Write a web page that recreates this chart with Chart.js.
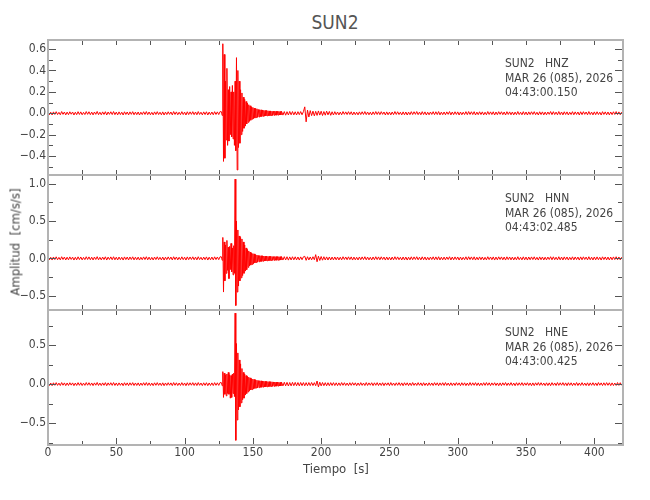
<!DOCTYPE html>
<html>
<head>
<meta charset="utf-8">
<script src="https://cdn.jsdelivr.net/npm/chart.js@4/dist/chart.umd.min.js"></script>
<style>
  body { margin: 0; background: #fff; }
  #wrap { position: relative; width: 650px; height: 500px; font-family: 'Liberation Sans Narrow', 'DejaVu Sans Condensed', sans-serif; color: #444; }
  canvas { position: absolute; left: 0; top: 0; }
  .info { position: absolute; left: 505px; white-space: pre; font-size: 12px; line-height: 14.5px; }
  .ttl { position: absolute; transform: translate(-50%, -50%); white-space: pre; }
</style>
</head>
<body>
<div id="wrap">
  <div class="ttl" style="left:335px;top:22px;font-size:19px;color:#555">SUN2</div>
  <canvas id="cZ" width="650" height="500"></canvas>
  <canvas id="cN" width="650" height="500"></canvas>
  <canvas id="cE" width="650" height="500"></canvas>
  <div class="info" style="top:56px">SUN2   HNZ
MAR 26 (085), 2026
04:43:00.150</div>
  <div class="info" style="top:191px">SUN2   HNN
MAR 26 (085), 2026
04:43:02.485</div>
  <div class="info" style="top:325px">SUN2   HNE
MAR 26 (085), 2026
04:43:00.425</div>
  <div class="ttl" style="left:15px;top:242px;font-size:13px;transform:translate(-50%,-50%) rotate(-90deg)">Amplitud  [cm/s/s]</div>
  <div class="ttl" style="left:336px;top:468px;font-size:13px">Tiempo  [s]</div>
</div>
<script>
/* three-component accelerogram, station SUN2 */

// sampling of the traces: [start, end, step] in seconds
const SEG_PRE = [0, 126, 1];
const SEG_BURST = [127, 170.5, 0.5];
const SEG_POST = [171, 420, 1];

const X_TICKS = [0, 50, 100, 150, 200, 250, 300, 350, 400];
const X_MINOR = [25, 50, 75, 100, 125, 150, 175, 200, 225, 250, 275, 300, 325, 350, 375, 400];

// HNZ
const hnzPre = [
  .012,-.014,.010,-.016,.013,-.011,.015,-.012,.009,-.014,.016,-.010,.012,-.015,.011,-.013,.014,-.009,.012,-.016,
  .010,-.013,.015,-.011,.013,-.014,.009,-.012,.016,-.010,.014,-.013,.011,-.015,.012,-.010,.017,-.013,.010,-.014,
  .013,-.011,.015,-.016,.012,-.010,.014,-.012,.016,-.013,.011,-.015,.013,-.012,.010,-.016,.014,-.011,.012,-.015,
  .013,-.010,.015,-.014,.011,-.013,.012,-.016,.010,-.012,.014,-.011,.016,-.013,.012,-.014,.009,-.015,.013,-.011,
  .015,-.012,.010,-.014,.013,-.016,.011,-.012,.014,-.010,.012,-.015,.016,-.011,.013,-.014,.010,-.013,.015,-.012,
  .011,-.016,.014,-.012,.013,-.010,.015,-.013,.012,-.014,.016,-.011,.010,-.015,.013,-.012,.014,-.016,.011,-.013,
  .012,-.014,.015,-.011,.013,-.012,.016];
const hnzBurst = [
  .014,-.02,.65,-.45,.55,-.42,.3,-.25,.42,-.3,
  .22,-.26,.25,-.2,.2,-.22,.26,-.24,.2,-.3,
  .3,-.35,.52,-.53,.4,-.32,.3,-.28,.22,-.2,
  .19,-.17,.15,-.14,.13,-.12,.11,-.1,.095,-.085,
  .08,-.075,.07,-.065,.06,-.055,.055,-.05,.048,-.045,
  .045,-.04,.042,-.038,.036,-.035,.034,-.032,.032,-.03,
  .03,-.028,.028,-.027,.026,-.025,.026,-.024,.024,-.023,
  .022,-.023,.022,-.021,.02,-.021,.02,-.019,.02,-.018,
  .019,-.018,.018,-.017,.018,-.016,.017,-.016];
const hnzPost = [
  .018,-.017,.016,-.018,.015,-.016,.017,-.014,.016,-.015,.014,-.016,.015,-.013,.016,-.014,.015,.06,-.08,.03,
  -.035,.025,-.022,.02,-.024,.018,-.02,.022,-.017,.019,-.021,.016,-.018,.02,-.015,.017,-.019,.014,-.016,.015,
  -.013,.012,-.015,.011,-.014,.016,-.010,.013,-.012,.015,-.011,.014,-.016,.012,-.013,.010,-.015,.013,-.012,.014,
  -.011,.016,-.013,.012,-.014,.010,-.015,.013,-.012,.016,-.011,.014,-.013,.015,-.010,.012,-.016,.013,-.014,.011,
  -.015,.012,-.013,.016,-.011,.014,-.012,.010,-.015,.013,-.014,.012,-.016,.011,-.013,.015,-.012,.014,-.010,.016,
  -.013,.011,-.014,.015,-.012,.013,-.016,.010,-.014,.012,-.011,.015,-.013,.014,-.012,.016,-.015,.011,-.013,.012,
  -.014,.013,-.010,.016,-.015,.012,-.013,.014,-.011,.013,-.016,.012,-.014,.010,-.012,.015,-.013,.016,-.011,.014,
  -.012,.015,-.016,.011,-.013,.014,-.012,.013,-.015,.010,-.014,.016,-.011,.013,-.012,.014,-.016,.012,-.013,.015,
  -.010,.014,-.013,.012,-.016,.015,-.011,.013,-.014,.012,-.015,.011,-.013,.016,-.012,.010,-.014,.015,-.013,.012,
  -.016,.013,-.012,.014,-.011,.015,-.013,.010,-.016,.014,-.012,.013,-.015,.011,-.014,.012,-.010,.016,-.013,.015,
  -.012,.011,-.014,.016,-.013,.012,-.015,.014,-.011,.013,-.016,.010,-.012,.015,-.014,.013,-.011,.012,-.016,.014,
  -.013,.015,-.010,.012,-.014,.016,-.012,.011,-.015,.013,-.013,.014,-.012,.010,-.016,.015,-.011,.013,-.014,.012,
  -.015,.012,-.013,.014,-.011,.016,-.012,.013,-.014,.011];

// HNN
const hnnPre = [
  .018,-.020,.015,-.022,.019,-.016,.021,-.018,.014,-.020,.022,-.015,.018,-.021,.016,-.019,.020,-.014,.017,-.022,
  .015,-.019,.021,-.016,.019,-.020,.014,-.017,.022,-.015,.020,-.018,.016,-.021,.018,-.015,.023,-.019,.015,-.020,
  .018,-.016,.021,-.022,.017,-.015,.020,-.018,.022,-.019,.016,-.021,.018,-.017,.015,-.022,.020,-.016,.018,-.021,
  .019,-.015,.021,-.020,.016,-.018,.017,-.022,.015,-.018,.020,-.016,.022,-.019,.017,-.020,.014,-.021,.018,-.016,
  .021,-.017,.015,-.020,.018,-.022,.016,-.017,.020,-.015,.018,-.021,.022,-.016,.019,-.020,.015,-.018,.021,-.017,
  .016,-.022,.020,-.017,.019,-.015,.021,-.018,.017,-.020,.022,-.016,.015,-.021,.018,-.017,.020,-.022,.016,-.019,
  .018,-.020,.021,-.016,.019,-.017,.022];
const hnnBurst = [
  .02,-.025,.28,-.45,.22,-.3,.18,-.2,.24,-.16,
  .15,-.27,.16,-.15,.2,-.18,.14,-.22,.17,-.2,
  1.06,-.63,.5,-.45,.38,-.37,.3,-.3,.28,-.26,
  .26,-.23,.22,-.2,.18,-.17,.14,-.15,.12,-.12,
  .1,-.1,.085,-.09,.07,-.08,.065,-.07,.06,-.06,
  .05,-.055,.045,-.05,.04,-.045,.038,-.042,.035,-.04,
  .035,-.038,.032,-.035,.03,-.034,.03,-.032,.028,-.03,
  .028,-.03,.027,-.028,.026,-.027,.025,-.026,.025,-.025,
  .024,-.025,.024,-.024,.023,-.024,.023,-.022];
const hnnPost = [
  .024,-.022,.023,-.021,.022,-.023,.020,-.021,.022,-.019,.021,-.020,.019,-.022,.020,-.018,.021,.028,-.026,.022,
  -.021,.019,-.020,.022,-.018,.050,-.045,.030,-.028,.025,-.024,.022,-.021,.020,-.022,.019,-.021,.018,-.020,.019,
  -.019,.018,-.021,.016,-.020,.022,-.015,.019,-.018,.021,-.016,.020,-.022,.018,-.019,.015,-.021,.019,-.018,.020,
  -.016,.022,-.019,.018,-.020,.015,-.021,.019,-.018,.022,-.016,.020,-.019,.021,-.015,.018,-.022,.019,-.020,.016,
  -.021,.018,-.019,.022,-.016,.020,-.018,.015,-.021,.019,-.020,.018,-.022,.016,-.019,.021,-.018,.020,-.015,.022,
  -.019,.016,-.020,.021,-.018,.019,-.022,.015,-.020,.018,-.016,.021,-.019,.020,-.018,.022,-.021,.016,-.019,.018,
  -.020,.019,-.015,.022,-.021,.018,-.019,.020,-.016,.019,-.022,.018,-.020,.015,-.018,.021,-.019,.022,-.016,.020,
  -.018,.021,-.022,.016,-.019,.020,-.018,.019,-.021,.015,-.020,.022,-.016,.019,-.018,.020,-.022,.018,-.019,.021,
  -.015,.020,-.019,.018,-.022,.021,-.016,.019,-.020,.018,-.021,.016,-.019,.022,-.018,.015,-.020,.021,-.019,.018,
  -.022,.019,-.018,.020,-.016,.021,-.019,.015,-.022,.020,-.018,.019,-.021,.016,-.020,.018,-.015,.022,-.019,.021,
  -.018,.016,-.020,.022,-.019,.018,-.021,.020,-.016,.019,-.022,.015,-.018,.021,-.020,.019,-.016,.018,-.022,.020,
  -.019,.021,-.015,.018,-.020,.022,-.018,.016,-.021,.019,-.019,.020,-.018,.015,-.022,.021,-.016,.019,-.020,.018,
  -.021,.018,-.019,.020,-.016,.022,-.018,.019,-.020,.016];

// HNE
const hnePre = [
  .016,-.018,.014,-.020,.017,-.015,.019,-.016,.013,-.018,.020,-.014,.016,-.019,.015,-.017,.018,-.013,.016,-.020,
  .014,-.017,.019,-.015,.017,-.018,.013,-.016,.020,-.014,.018,-.016,.015,-.019,.016,-.014,.021,-.017,.014,-.018,
  .016,-.015,.019,-.020,.016,-.014,.018,-.016,.020,-.017,.015,-.019,.016,-.015,.014,-.020,.018,-.015,.016,-.019,
  .017,-.014,.019,-.018,.015,-.017,.016,-.020,.014,-.016,.018,-.015,.020,-.017,.016,-.018,.013,-.019,.017,-.015,
  .019,-.016,.014,-.018,.017,-.020,.015,-.016,.018,-.014,.016,-.019,.020,-.015,.017,-.018,.014,-.017,.019,-.016,
  .015,-.020,.018,-.016,.017,-.014,.019,-.017,.016,-.018,.020,-.015,.014,-.019,.017,-.016,.018,-.020,.015,-.017,
  .016,-.018,.019,-.015,.017,-.016,.020];
const hneBurst = [
  .018,-.02,.16,-.17,.14,-.13,.12,-.15,.13,-.12,
  .15,-.13,.12,-.18,.11,-.17,.13,-.12,.14,-.16,
  .91,-.72,.52,-.46,.4,-.33,.31,-.29,.26,-.24,
  .2,-.2,.15,-.18,.13,-.14,.11,-.12,.1,-.1,
  .09,-.085,.08,-.075,.07,-.07,.065,-.06,.06,-.055,
  .055,-.05,.05,-.048,.046,-.045,.044,-.042,.042,-.04,
  .04,-.038,.038,-.036,.036,-.035,.034,-.034,.033,-.032,
  .032,-.031,.03,-.03,.03,-.029,.028,-.028,.027,-.027,
  .026,-.026,.025,-.025,.024,-.024,.023,-.023];
const hnePost = [
  .025,-.023,.024,-.022,.023,-.024,.021,-.022,.023,-.020,.022,-.021,.020,-.022,.021,-.019,.020,-.021,.019,-.020,
  .020,-.019,.021,-.018,.019,-.020,.040,-.035,.025,-.022,.021,-.020,.019,-.021,.018,-.020,.019,-.017,.019,-.018,
  .017,-.019,.016,-.018,.020,-.015,.018,-.017,.014,-.019,.018,-.016,.019,-.014,.017,-.020,.015,-.017,.019,-.016,
  .014,-.018,.020,-.017,.016,-.014,.018,-.019,.017,-.015,.019,-.018,.015,-.017,.018,-.020,.016,-.014,.017,-.019,
  .020,-.016,.014,-.018,.017,-.015,.019,-.017,.016,-.020,.018,-.014,.017,-.019,.015,-.018,.020,-.016,.014,-.017,
  .019,-.015,.016,-.020,.018,-.017,.014,-.019,.017,-.016,.015,-.018,.019,-.014,.017,-.020,.016,-.015,.018,-.017,
  .020,-.016,.014,-.019,.017,-.018,.015,-.017,.019,-.014,.016,-.020,.018,-.015,.017,-.019,.014,-.018,.020,-.016,
  .017,-.015,.019,-.018,.016,-.020,.014,-.017,.018,-.016,.020,-.015,.017,-.019,.016,-.014,.018,-.017,.015,-.020,
  .016,-.019,.017,-.014,.020,-.018,.015,-.016,.019,-.017,.014,-.020,.018,-.016,.017,-.015,.019,-.018,.016,-.014,
  .018,-.017,.015,-.020,.016,-.019,.017,-.014,.020,-.016,.018,-.015,.014,-.019,.017,-.018,.016,-.020,.019,-.015,
  .015,-.018,.020,-.016,.017,-.014,.019,-.017,.016,-.020,.018,-.015,.017,-.019,.014,-.016,.020,-.018,.015,-.017,
  .019,-.016,.014,-.018,.017,-.020,.016,-.015,.018,-.017,.015,-.019,.020,-.014,.016,-.018,.017,-.016,.019,-.015,
  .017,-.019,.016,-.018,.014,-.017,.020,-.016,.018,-.015];

// y axis ranges and ticks per panel
const hnzRange = [-0.577, 0.685];
const hnzTicks = [-0.4, -0.2, 0, 0.2, 0.4, 0.6];
const hnzMinor = [-0.5, -0.3, -0.1, 0.1, 0.3, 0.5];
const hnnRange = [-0.69, 1.115];
const hnnTicks = [-0.5, 0, 0.5, 1.0];
const hnnMinor = [-0.25, 0.25, 0.75];
const hneRange = [-0.78, 0.95];
const hneTicks = [-0.5, 0, 0.5];
const hneMinor = [-0.75, -0.25, 0.25, 0.75];

const FONT = "'Liberation Sans Narrow', 'DejaVu Sans Condensed', sans-serif";

function seg([a, b, d]) {
  const n = Math.round((b - a) / d) + 1;
  return Array.from({ length: n }, (_, i) => a + i * d);
}
const TIMES = seg(SEG_PRE).concat(seg(SEG_BURST), seg(SEG_POST));

// box around each panel + inward tick marks on all four sides
const frameTicks = {
  id: 'frameTicks',
  afterDraw(chart, args, o) {
    const { ctx, chartArea: a, scales: { x, y } } = chart;
    ctx.save();
    ctx.strokeStyle = '#555';
    ctx.lineWidth = 1;
    ctx.beginPath();
    X_MINOR.forEach((v) => {
      const px = Math.round(x.getPixelForValue(v)) + 0.5;
      const lb = o.bottomAxis ? (v % 50 === 0 ? 7 : 4) : 5;
      ctx.moveTo(px, a.top); ctx.lineTo(px, a.top + 5);
      ctx.moveTo(px, a.bottom); ctx.lineTo(px, a.bottom - lb);
    });
    const yt = (v, len) => {
      const py = Math.round(y.getPixelForValue(v)) + 0.5;
      ctx.moveTo(a.left, py); ctx.lineTo(a.left + len, py);
      ctx.moveTo(a.right, py); ctx.lineTo(a.right - len, py);
    };
    o.major.forEach((v) => yt(v, 8));
    o.minor.forEach((v) => yt(v, 5));
    ctx.stroke();
    ctx.strokeStyle = '#b3b3b3';
    ctx.lineWidth = 2;
    ctx.strokeRect(a.left, a.top, a.right - a.left, a.bottom - a.top);
    ctx.restore();
  },
};

const fmt = (v) => (v < 0 ? '\u2212' : '') + Math.abs(v).toFixed(1);

function drawTrace(id, pre, burst, post, range, major, minor, showX, padTop, padBottom) {
  const vals = pre.concat(burst, post);
  new Chart(document.getElementById(id), {
    type: 'line',
    data: { datasets: [{ data: TIMES.map((t, i) => ({ x: t, y: vals[i] })), borderColor: '#ff0000', borderWidth: 1, pointRadius: 0, tension: 0, fill: false }] },
    options: {
      responsive: false, animation: false, events: [],
      layout: { padding: { top: padTop, right: 27, left: 0, bottom: padBottom } },
      plugins: { legend: { display: false }, tooltip: { enabled: false }, frameTicks: { major, minor, bottomAxis: showX } },
      scales: {
        x: {
          type: 'linear', min: 0, max: 421, display: showX,
          grid: { display: false, drawTicks: false }, border: { display: false },
          ticks: { color: '#444', font: { family: FONT, size: 12 }, padding: 1, maxRotation: 0, autoSkip: false },
          afterBuildTicks: (s) => { s.ticks = X_TICKS.map((v) => ({ value: v })); },
          afterFit: (s) => { s.height = showX ? 55 : 0; },
        },
        y: {
          min: range[0], max: range[1],
          grid: { display: false, drawTicks: false }, border: { display: false },
          ticks: { color: '#444', font: { family: FONT, size: 12 }, padding: 2, callback: fmt },
          afterBuildTicks: (s) => { s.ticks = major.map((v) => ({ value: v })); },
          afterFit: (s) => { s.width = 48; },
        },
      },
    },
    plugins: [frameTicks],
  });
}

drawTrace('cZ', hnzPre, hnzBurst, hnzPost, hnzRange, hnzTicks, hnzMinor, false, 40, 325);
drawTrace('cN', hnnPre, hnnBurst, hnnPost, hnnRange, hnnTicks, hnnMinor, false, 175, 190);
drawTrace('cE', hnePre, hneBurst, hnePost, hneRange, hneTicks, hneMinor, true, 310, 0);
</script>
</body>
</html>
